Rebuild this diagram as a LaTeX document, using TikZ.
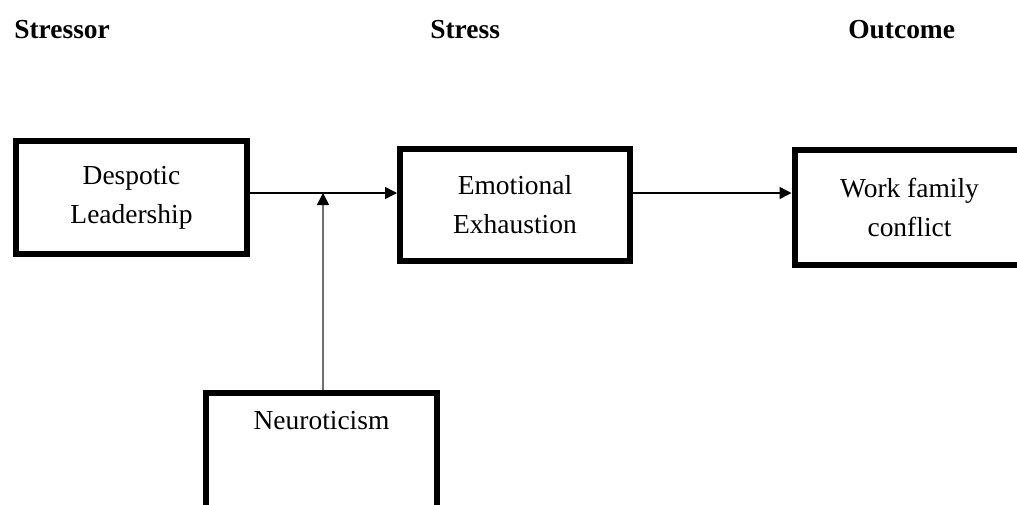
\documentclass[tikz,border=0pt]{standalone}
\usepackage{fontspec}
\setmainfont{Liberation Serif}
\usepackage{tikz}
\usetikzlibrary{positioning, arrows.meta, calc}
\definecolor{modgray}{HTML}{6E6E6E}

\begin{document}
\begin{tikzpicture}[x=0.75pt, y=-0.75pt,
    box/.style={draw, line width=4.5pt, align=center, inner sep=0pt,
                font=\fontsize{20.6}{29.25}\selectfont},
    head/.style={anchor=base west, inner sep=0pt,
                 font=\fontsize{20.6}{24}\selectfont\bfseries},
    link/.style={line width=1.1pt, -{Triangle[length=9pt, width=9pt]}},
    modlink/.style={line width=1.3pt, draw=modgray,
                    -{Triangle[length=9pt, width=9pt, color=black]}}]
  \useasboundingbox (0,0) rectangle (1017,504);
  \node[head] (stressor) at (14,38) {Stressor};
  \node[head] (stress) at (430,38) {Stress};
  \node[head] (outcome) at (848,38) {Outcome};

  \node[box, minimum width=173.25pt, minimum height=85pt] (despotic) at (131.5,197.5) {Despotic\\Leadership};
  \node[box, minimum width=172.5pt, minimum height=84pt] (emotional) at (515,205) {Emotional\\Exhaustion};
  \node[box, minimum width=172.5pt, minimum height=86pt] (work) at (909.5,207.75) {Work family\\conflict};
  \node[box, minimum width=173.25pt, text height=27.75pt, text depth=61pt] (neuro) at (321.5,452) {Neuroticism};

  \coordinate (join) at (323,193);
  \draw[link] (despotic.east |- join) -- (emotional.west |- join);
  \draw[link] (emotional.east |- join) -- (work.west |- join);
  \draw[modlink] (neuro.north -| join) -- (join);
\end{tikzpicture}
\end{document}
